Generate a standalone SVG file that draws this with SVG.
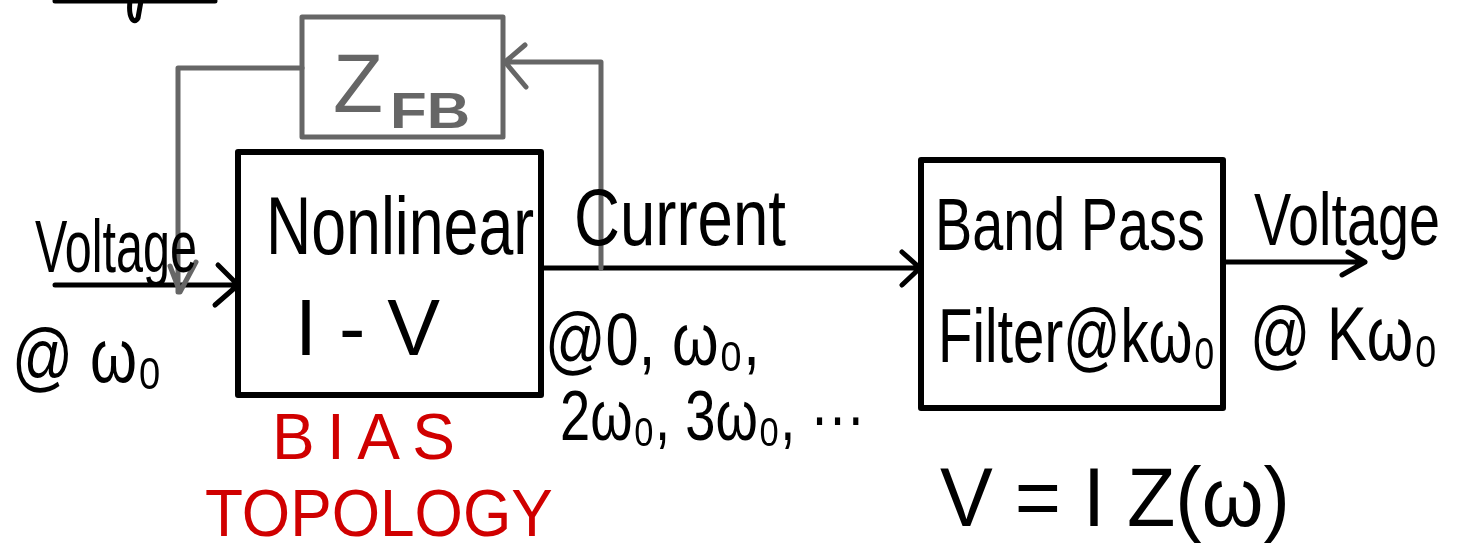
<svg xmlns="http://www.w3.org/2000/svg" width="1463" height="551" viewBox="0 0 1463 551">
<style>
.box{fill:none;stroke:#000;stroke-width:6;stroke-linejoin:round}
.gbox{fill:none;stroke:#666;stroke-width:5;stroke-linejoin:round}
.ln{fill:none;stroke:#000;stroke-width:5;stroke-linecap:round;stroke-linejoin:round}
.gl{fill:none;stroke:#666;stroke-width:5;stroke-linecap:round;stroke-linejoin:round}
.t{font-family:"Liberation Sans","Noto Sans",sans-serif;fill:#000}
.r{font-family:"Liberation Sans","Noto Sans",sans-serif;fill:#d00000}
.g{font-family:"Liberation Sans","Noto Sans",sans-serif;fill:#666}
</style>
<rect width="1463" height="551" fill="#fff"/>
<path class="ln" d="M55 1 L215 1 M130 1 C128 18 134 25 138 18 L141 1"/>
<g id="connectors">
  <path class="ln" d="M55 285 L238 285 M218 265 L238 285 L215 305"/>
  <path class="ln" d="M541 268 L920 268 M902 252 L920 268 L902 285"/>
  <path class="ln" d="M1223 262 L1365 262 M1348 252 L1365 262 L1342 275"/>
  <path class="gl" d="M302 68 L178 68 L178 292 M170 266 L180 292 L196 262"/>
  <path class="gl" d="M601 268 L601 62 L505 62 M525 45 L505 62 L526 87"/>
</g>
<g id="zfb">
  <rect class="gbox" x="302" y="17" width="201" height="120"/>
  <text class="g" x="333" y="112" font-size="84" textLength="50" lengthAdjust="spacingAndGlyphs">Z</text>
  <text class="g" x="390" y="128" font-size="50" font-weight="bold" textLength="80" lengthAdjust="spacingAndGlyphs">FB</text>
</g>
<g id="nonlinear">
  <rect class="box" x="238" y="152" width="303" height="243"/>
  <text class="t" transform="translate(266,254) scale(0.764,1)" font-size="82" textLength="351" lengthAdjust="spacingAndGlyphs">Nonlinear</text>
  <text class="t" x="295" y="355" font-size="80" textLength="145" lengthAdjust="spacingAndGlyphs">I - V</text>
</g>
<g id="bpf">
  <rect class="box" x="921" y="160" width="302" height="248"/>
  <text class="t" transform="translate(935,250) scale(0.754,1)" font-size="74" textLength="358" lengthAdjust="spacingAndGlyphs">Band Pass</text>
  <text class="t" transform="translate(938,362) scale(0.72,1)" font-size="76" textLength="386" lengthAdjust="spacingAndGlyphs">Filter@kω₀</text>
</g>
<g id="labels">
  <text class="t" transform="translate(35,272) scale(0.645,1)" font-size="74" textLength="251" lengthAdjust="spacingAndGlyphs">Voltage</text>
  <text class="t" transform="translate(12,382) scale(0.75,1)" font-size="76" textLength="200" lengthAdjust="spacingAndGlyphs">@ ω₀</text>
  <text class="t" transform="translate(574,245) scale(0.794,1)" font-size="80" textLength="267" lengthAdjust="spacingAndGlyphs">Current</text>
  <text class="t" transform="translate(545,365) scale(0.776,1)" font-size="74" textLength="277" lengthAdjust="spacingAndGlyphs">@0, ω₀,</text>
  <text class="t" transform="translate(560,440) scale(0.76,1)" font-size="70" textLength="401" lengthAdjust="spacingAndGlyphs">2ω₀, 3ω₀, ···</text>
  <text class="t" transform="translate(1254,245) scale(0.741,1)" font-size="74" textLength="251" lengthAdjust="spacingAndGlyphs">Voltage</text>
  <text class="t" transform="translate(1250,360) scale(0.752,1)" font-size="76" textLength="250" lengthAdjust="spacingAndGlyphs">@ Kω₀</text>
  <text class="t" transform="translate(940,526) scale(0.943,1)" font-size="84" textLength="371" lengthAdjust="spacingAndGlyphs">V = I Z(ω)</text>
  <text class="r" x="272" y="459" font-size="64" textLength="183" lengthAdjust="spacing">BIAS</text>
  <text class="r" transform="translate(205,536) scale(0.94,1)" font-size="66" textLength="370" lengthAdjust="spacingAndGlyphs">TOPOLOGY</text>
</g>
</svg>
